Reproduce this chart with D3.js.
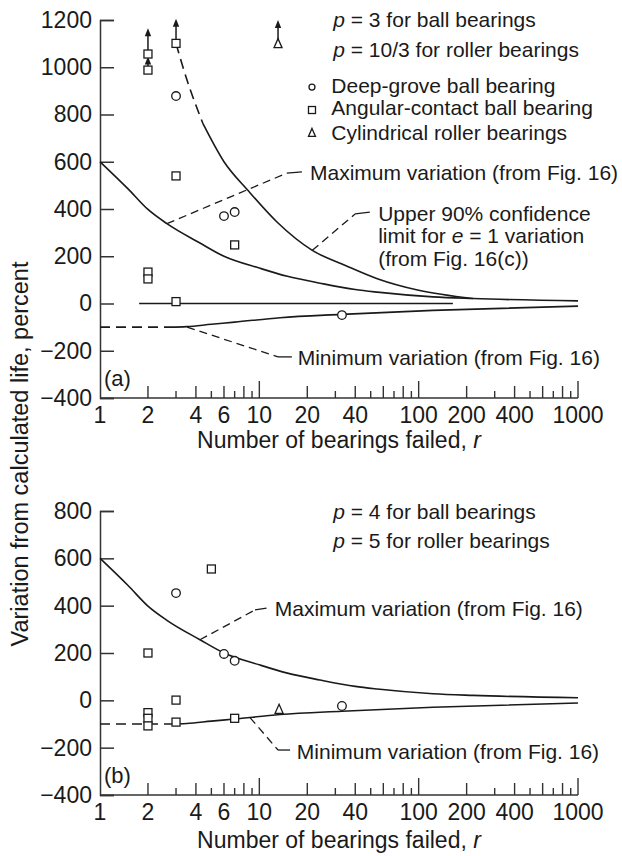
<!DOCTYPE html>
<html><head><meta charset="utf-8">
<script src="https://cdn.jsdelivr.net/npm/d3@7"></script>
<style>body{margin:0;background:#fff}svg{display:block}text{font-family:"Liberation Sans",Arial,sans-serif;fill:#1a1a1a}</style>
</head><body>
<script>
// ---------- data ----------
const xTickLabels = [1,2,4,6,10,20,40,100,200,400,1000];
const yTicksA = [1200,1000,800,600,400,200,0,-200,-400];
const yTicksB = [800,600,400,200,0,-200,-400];

// curves (r, percent)
const maxVarR = [1,1.5,2,2.63,4.24,6,10,15,24,40,55,123,219,1000];
const maxVarV = [600,485,398,338,256,200,150,115,86,59,48,28,21,11];
const upperDashR = [3,3.5,4.43];
const upperDashV = [1100,950,761];
const upperR = [4.43,6,8.5,12.9,21.5,35,55,100,219];
const upperV = [761,600,478,345,225,160,105,56,21];
const minDashR = [1,2.75];
const minDashV = [-100,-100];
const minR = [2.75,3.5,5,7,13.5,33,123,1000];
const minV = [-100,-98,-88,-79,-60,-46,-29,-11];
const zeroR = [1.76,164];
const zeroV = [0,0];

// panel (a) points
const circA_r = [3,6,7,33];
const circA_v = [878,370,387,-49];
const sqA_r = [2,2,2,2,3,3,3,7];
const sqA_v = [1056,988,133,104,1101,540,8,248];
const sqA_arrow = [1165,1045,null,null,1205,null,null,null];
const triA_r = [13.1];
const triA_v = [1100];
const triA_arrow = [1200];

// panel (b) points
const circB_r = [3,6,7,33];
const circB_v = [453,196,167,-24];
const sqB_r = [2,2,2,2,3,3,5,7];
const sqB_v = [200,-52,-76,-108,1,-92,555,-76];
const triB_r = [13.3];
const triB_v = [-38];

// ---------- setup ----------
const W = 622, H = 856;
const svg = d3.select("body").append("svg").attr("width", W).attr("height", H);
const x = d3.scaleLog().domain([1,1000]).range([100,578]);
const yA = d3.scaleLinear().domain([-400,1200]).range([398,20]);
const yB = d3.scaleLinear().domain([-400,800]).range([795,511]);
const ink = "#1a1a1a";
const zip = (a,b) => a.map((d,i)=>[d,b[i]]);

function drawAxes(g, y, yTicks, baseLabel, baseTitle) {
  const y0 = y.range()[0];
  const ya = d3.axisLeft(y).tickValues(yTicks).tickSize(-14).tickPadding(8)
    .tickFormat(d3.format("d"));
  const yg = g.append("g").attr("transform","translate(100,0)").call(ya);
  yg.select(".domain").attr("stroke","#333").attr("stroke-width",1.5);
  yg.selectAll(".tick line").attr("stroke","#333").attr("stroke-width",1.5);
  yg.selectAll(".tick text").attr("font-size",23).attr("fill",ink)
    .style("font-family","'Liberation Sans',Arial,sans-serif")
    .text(d => d < 0 ? "\u2212" + Math.abs(d) : d);
  g.append("line").attr("x1",x(1)).attr("x2",x(1000)).attr("y1",y0).attr("y2",y0)
    .attr("stroke","#333").attr("stroke-width",1.5);
  const ticks = [];
  [1,10,100].forEach(dec => { for (let k=2;k<=10;k++) ticks.push([dec*k,k]); });
  g.selectAll(".xt").data(ticks).enter().append("line")
    .attr("x1",d=>x(d[0])).attr("x2",d=>x(d[0]))
    .attr("y1",y0).attr("y2",d=> y0 - (d[1]===10 ? 17 : (d[1]%2===0 ? 12 : 7)))
    .attr("stroke","#333").attr("stroke-width",1.4);
  g.selectAll(".xl").data(xTickLabels).enter().append("text")
    .attr("x",d=>x(d)).attr("y",baseLabel).attr("text-anchor","middle")
    .attr("font-size",23).text(d=>d);
  const t = g.append("text").attr("x",(x(1)+x(1000))/2).attr("y",baseTitle)
    .attr("text-anchor","middle").attr("font-size",23);
  t.append("tspan").text("Number of bearings failed, ");
  t.append("tspan").attr("font-style","italic").text("r");
}

function curve(g, y, rs, vs, dashed) {
  const line = d3.line().x(d=>x(d[0])).y(d=>y(d[1])).curve(d3.curveMonotoneX);
  g.append("path").datum(zip(rs,vs)).attr("d",line).attr("fill","none")
    .attr("stroke",ink).attr("stroke-width",1.6)
    .attr("stroke-dasharray", dashed ? "10,6" : null);
}

function leader(g, y, dashPts, solidPts) {
  const line = d3.line().x(d=>x(d[0])).y(d=>y(d[1]));
  g.append("path").datum(dashPts).attr("d",line).attr("fill","none")
    .attr("stroke",ink).attr("stroke-width",1.3).attr("stroke-dasharray","8,5");
  g.append("path").datum(solidPts).attr("d",line).attr("fill","none")
    .attr("stroke",ink).attr("stroke-width",1.3);
}

function label(g, y, r, v, parts, size) {
  const t = g.append("text").attr("x",x(r)).attr("y",y(v)).attr("font-size",size||21);
  parts.forEach(p => {
    const s = t.append("tspan").text(p[0]);
    if (p[1]) s.attr("font-style","italic");
  });
}

function circles(g, y, rs, vs, rad) {
  g.selectAll(null).data(zip(rs,vs)).enter().append("circle")
    .attr("cx",d=>x(d[0])).attr("cy",d=>y(d[1])).attr("r",rad||4.3)
    .attr("fill","#fff").attr("stroke",ink).attr("stroke-width",1.3);
}
function squares(g, y, rs, vs, s) {
  s = s || 8;
  g.selectAll(null).data(zip(rs,vs)).enter().append("rect")
    .attr("x",d=>x(d[0])-s/2).attr("y",d=>y(d[1])-s/2).attr("width",s).attr("height",s)
    .attr("fill","#fff").attr("stroke",ink).attr("stroke-width",1.3);
}
function triangles(g, y, rs, vs, s) {
  s = s || 8;
  g.selectAll(null).data(zip(rs,vs)).enter().append("path")
    .attr("d",d=>{const cx=x(d[0]),cy=y(d[1]);
      return `M${cx},${cy-s/2-1}L${cx+s/2},${cy+s/2}L${cx-s/2},${cy+s/2}Z`;})
    .attr("fill","#fff").attr("stroke",ink).attr("stroke-width",1.3);
}
function arrows(g, y, rs, vs, tips) {
  rs.forEach((r,i) => {
    if (tips[i] == null) return;
    const cx = x(r), y1 = y(vs[i]) - 4, yt = y(tips[i]);
    g.append("line").attr("x1",cx).attr("x2",cx).attr("y1",y1).attr("y2",yt+6)
      .attr("stroke",ink).attr("stroke-width",1.5);
    g.append("path").attr("d",`M${cx},${yt}L${cx+3.2},${yt+8}L${cx-3.2},${yt+8}Z`).attr("fill",ink);
  });
}

// ---------- panel (a) ----------
const ga = svg.append("g");
drawAxes(ga, yA, yTicksA, 423, 448);
curve(ga, yA, maxVarR, maxVarV, false);
curve(ga, yA, upperDashR, upperDashV, true);
curve(ga, yA, upperR, upperV, false);
curve(ga, yA, minDashR, minDashV, true);
curve(ga, yA, minR, minV, false);
curve(ga, yA, zeroR, zeroV, false);
leader(ga, yA, [[2.63,338],[14.9,552]], [[14.9,552],[18.5,557]]);
leader(ga, yA, [[21.5,225],[39.9,379]], [[39.9,379],[49.4,387]]);
leader(ga, yA, [[3.52,-100],[13.1,-226]], [[13.1,-226],[16,-226]]);
arrows(ga, yA, sqA_r, sqA_v, sqA_arrow);
arrows(ga, yA, triA_r, triA_v, triA_arrow);
circles(ga, yA, circA_r, circA_v);
squares(ga, yA, sqA_r, sqA_v);
triangles(ga, yA, triA_r, triA_v);
label(ga, yA, 29.1, 1169, [["p",true],[" = 3 for ball bearings"]]);
label(ga, yA, 29.1, 1042, [["p",true],[" = 10/3 for roller bearings"]]);
circles(ga, yA, [21.4], [916], 3);
squares(ga, yA, [21.4], [819], 7);
triangles(ga, yA, [21.4], [722], 7);
label(ga, yA, 28.3, 891, [["Deep-grove ball bearing"]]);
label(ga, yA, 28.3, 796, [["Angular-contact ball bearing"]]);
label(ga, yA, 28.3, 692, [["Cylindrical roller bearings"]]);
label(ga, yA, 20.8, 523, [["Maximum variation (from Fig. 16)"]]);
label(ga, yA, 55.7, 349, [["Upper 90% confidence"]]);
label(ga, yA, 55.7, 256, [["limit for "],["e",true],[" = 1 variation"]]);
label(ga, yA, 55.7, 159, [["(from Fig. 16(c))"]]);
label(ga, yA, 17.4, -260, [["Minimum variation (from Fig. 16)"]]);
label(ga, yA, 1.06, -349, [["(a)"]], 22);

// ---------- panel (b) ----------
const gb = svg.append("g");
drawAxes(gb, yB, yTicksB, 820, 848);
curve(gb, yB, maxVarR, maxVarV, false);
curve(gb, yB, minDashR, minDashV, true);
curve(gb, yB, minR, minV, false);
leader(gb, yB, [[4.24,256],[9.4,382]], [[9.4,382],[11.1,390]]);
leader(gb, yB, [[8.74,-73],[13.1,-210]], [[13.1,-210],[15.6,-210]]);
circles(gb, yB, circB_r, circB_v);
squares(gb, yB, sqB_r, sqB_v);
triangles(gb, yB, triB_r, triB_v);
label(gb, yB, 29.1, 766, [["p",true],[" = 4 for ball bearings"]]);
label(gb, yB, 29.1, 644, [["p",true],[" = 5 for roller bearings"]]);
label(gb, yB, 12.5, 356, [["Maximum variation (from Fig. 16)"]]);
label(gb, yB, 17.2, -248, [["Minimum variation (from Fig. 16)"]]);
label(gb, yB, 1.06, -349, [["(b)"]], 22);

// y-axis title
svg.append("text").attr("transform","translate(28,454) rotate(-90)")
  .attr("text-anchor","middle").attr("font-size",23.5)
  .text("Variation from calculated life, percent");
</script>
</body></html>
